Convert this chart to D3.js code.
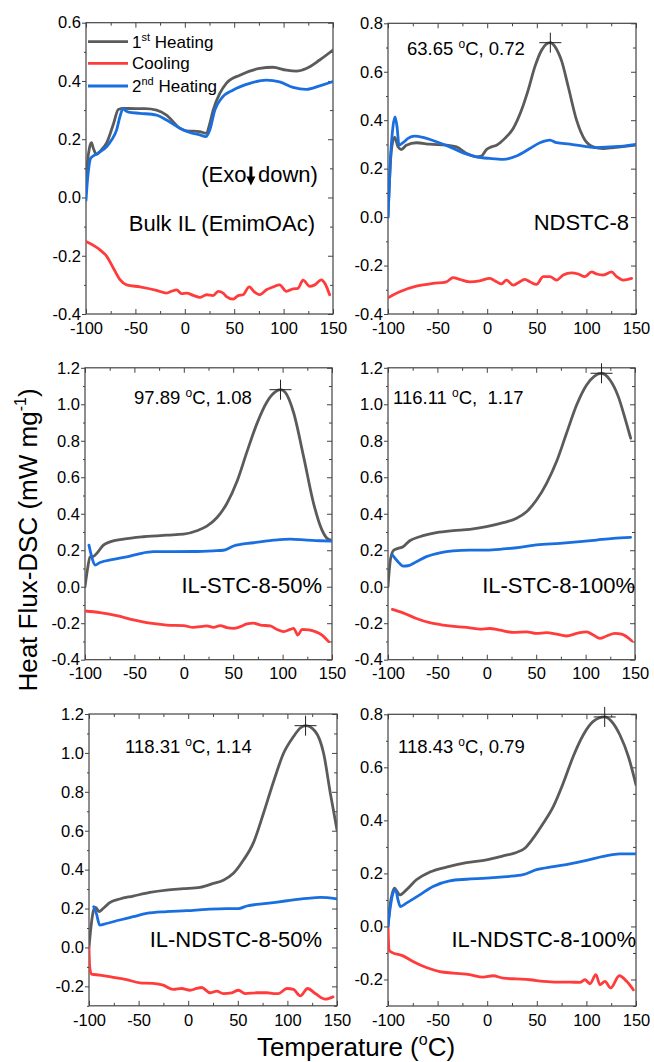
<!DOCTYPE html>
<html><head><meta charset="utf-8">
<script src="https://cdn.jsdelivr.net/npm/d3@7"></script>
<style>
body{margin:0;background:#fff}
svg{display:block}
text{font-family:"Liberation Sans",Arial,Helvetica,sans-serif;fill:#000}
</style>
</head><body>
<svg id="c" width="654" height="1062"></svg>
<script>
// ---------------- DATA ----------------
const xTicks = [-100, -50, 0, 50, 100, 150];
const xMinorTicks = [-75, -25, 25, 75, 125];
const seriesNames = ["1st Heating", "Cooling", "2nd Heating"];
const sampleNames = ["Bulk IL (EmimOAc)", "NDSTC-8", "IL-STC-8-50%", "IL-STC-8-100%", "IL-NDSTC-8-50%", "IL-NDSTC-8-100%"];

const p1YTicks = [-0.4, -0.2, 0.0, 0.2, 0.4, 0.6];
const p2YTicks = [-0.4, -0.2, 0.0, 0.2, 0.4, 0.6, 0.8];
const p3YTicks = [-0.4, -0.2, 0.0, 0.2, 0.4, 0.6, 0.8, 1.0, 1.2];
const p4YTicks = [-0.4, -0.2, 0.0, 0.2, 0.4, 0.6, 0.8, 1.0, 1.2];
const p5YTicks = [-0.2, 0.0, 0.2, 0.4, 0.6, 0.8, 1.0, 1.2];
const p6YTicks = [-0.2, 0.0, 0.2, 0.4, 0.6, 0.8];

// peaks [T, value] as labelled
const p2Peak = [63.65, 0.72];
const p3Peak = [97.89, 1.08];
const p4Peak = [116.11, 1.17];
const p5Peak = [118.31, 1.14];
const p6Peak = [118.43, 0.79];
const peakLabels = ["63.65 ", "97.89 ", "116.11 ", "118.31 ", "118.43 "];
const peakValueLabels = [", 0.72", ", 1.08", ",  1.17", ", 1.14", ", 0.79"];

// Panel 1 : Bulk IL
const p1Heat1 = [[-100,0.04],[-98.5,0.12],[-96.5,0.17],[-94.5,0.188],[-92.5,0.168],[-89.5,0.148],[-84,0.165],[-79,0.188],[-72,0.255],[-67.3,0.302],[-62,0.306],[-50,0.305],[-40,0.305],[-28.6,0.30],[-18.5,0.283],[-5,0.238],[1.8,0.229],[15,0.226],[22,0.22],[25,0.25],[28.7,0.30],[35.4,0.357],[42,0.392],[55.7,0.42],[75.9,0.443],[89,0.447],[102.8,0.437],[113,0.434],[123,0.443],[136.5,0.472],[150,0.506]];
const p1Cool = [[-100,-0.151],[-85.8,-0.18],[-79,-0.202],[-72.4,-0.242],[-65.6,-0.282],[-58.9,-0.30],[-45.4,-0.307],[-28.6,-0.319],[-18.5,-0.328],[-13.4,-0.322],[-8.4,-0.317],[-3.3,-0.33],[1.8,-0.328],[8.5,-0.336],[15.2,-0.343],[22,-0.334],[28.7,-0.337],[33.8,-0.322],[38.8,-0.328],[42.2,-0.34],[49,-0.349],[54,-0.337],[59,-0.334],[65.1,-0.307],[70.8,-0.325],[75.9,-0.334],[82.6,-0.317],[89.4,-0.307],[96,-0.30],[102.8,-0.322],[109.5,-0.314],[114.5,-0.312],[119.7,-0.284],[126.4,-0.305],[131.5,-0.30],[138.2,-0.283],[141.6,-0.294],[146.6,-0.334]];
const p1Heat2 = [[-100,-0.01],[-98.5,0.06],[-97.6,0.09],[-95.3,0.135],[-89,0.15],[-79,0.175],[-74,0.198],[-69,0.232],[-65.6,0.278],[-62.3,0.306],[-60,0.298],[-57,0.293],[-45.4,0.289],[-28.6,0.283],[-18.5,0.266],[-5,0.238],[5,0.223],[15.2,0.215],[21.3,0.209],[25.3,0.232],[30.4,0.30],[37,0.34],[49,0.369],[65.8,0.392],[82.6,0.403],[96,0.397],[109.6,0.378],[123,0.371],[136.5,0.383],[150,0.398]];

// Panel 2 : NDSTC-8
const p2Heat1 = [[-100,0],[-96.6,0.276],[-93.3,0.33],[-89.9,0.29],[-86.5,0.279],[-81.5,0.297],[-71.4,0.307],[-57.9,0.301],[-41,0.297],[-31,0.29],[-20.9,0.263],[-10.8,0.249],[-5.8,0.252],[-0.7,0.279],[4.3,0.29],[9.4,0.297],[17.8,0.325],[26.2,0.366],[34.6,0.442],[41.3,0.524],[48,0.62],[54.8,0.689],[59.5,0.714],[63.65,0.72],[68,0.706],[72,0.676],[75,0.645],[81.7,0.538],[90.1,0.40],[98.5,0.318],[106.9,0.29],[117,0.283],[127.1,0.287],[140.6,0.293],[150,0.297]];
const p2Cool = [[-100,-0.333],[-88.2,-0.308],[-71.4,-0.285],[-54.6,-0.274],[-41.1,-0.267],[-34.4,-0.25],[-27.7,-0.257],[-17.6,-0.267],[-7.5,-0.263],[2.6,-0.253],[9.4,-0.267],[14.4,-0.276],[19.4,-0.26],[26.2,-0.281],[31.2,-0.271],[38,-0.257],[43,-0.267],[49.7,-0.278],[56.5,-0.246],[63.2,-0.246],[70,-0.26],[76.6,-0.239],[85,-0.23],[91.8,-0.235],[98.5,-0.246],[105.2,-0.226],[110.3,-0.235],[117,-0.239],[125.4,-0.226],[130.5,-0.246],[137.2,-0.26],[145.6,-0.253]];
const p2Heat2 = [[-100,0],[-97.6,0.235],[-95,0.373],[-92.9,0.414],[-90.9,0.373],[-88.9,0.297],[-84.9,0.307],[-79.8,0.325],[-73.1,0.334],[-64.7,0.329],[-51.2,0.311],[-37.8,0.29],[-24.3,0.265],[-10.8,0.249],[2.6,0.242],[16.1,0.238],[29.5,0.252],[43,0.283],[53.1,0.307],[63.2,0.318],[70,0.307],[83.4,0.301],[96.8,0.293],[110.3,0.287],[123.8,0.29],[137.2,0.293],[150,0.30]];

// Panel 3 : IL-STC-8-50%
const p3Heat1 = [[-100,0],[-97.6,0.091],[-94.9,0.164],[-91.6,0.166],[-88.2,0.182],[-81.4,0.228],[-74.7,0.246],[-61.1,0.261],[-40.9,0.274],[-17.2,0.283],[-0.3,0.288],[13.2,0.307],[23.3,0.332],[33.4,0.378],[43.6,0.456],[53.7,0.575],[63.9,0.739],[74,0.894],[84.1,1.013],[92.6,1.068],[97.89,1.08],[102.7,1.065],[111.1,0.955],[121.3,0.712],[131.4,0.456],[139.9,0.31],[145,0.265],[150,0.252]];
const p3Cool = [[-100,-0.133],[-84.8,-0.142],[-67.9,-0.159],[-51,-0.182],[-34.1,-0.20],[-17.2,-0.21],[-0.3,-0.213],[9.8,-0.223],[16.6,-0.219],[23.3,-0.215],[30.1,-0.223],[36.8,-0.213],[43.6,-0.224],[50.3,-0.228],[57.1,-0.219],[63.9,-0.204],[70.6,-0.20],[77.4,-0.21],[87.5,-0.215],[94.3,-0.234],[101,-0.246],[107.8,-0.234],[111.1,-0.228],[115.5,-0.265],[119.6,-0.234],[126.4,-0.237],[133.1,-0.246],[139.9,-0.265],[146.6,-0.301]];
const p3Heat2 = [[-96,0.228],[-93.5,0.17],[-89.9,0.119],[-84.8,0.133],[-71.3,0.15],[-57.8,0.164],[-44.3,0.182],[-30.7,0.192],[-10.5,0.192],[9.8,0.193],[30,0.197],[40.2,0.20],[50.3,0.223],[70.6,0.241],[90.9,0.255],[107.8,0.261],[124.7,0.255],[138.2,0.252],[150,0.25]];

// Panel 4 : IL-STC-8-100%
const p4Heat1 = [[-100,0],[-97.6,0.146],[-94.3,0.20],[-89.9,0.21],[-84.8,0.219],[-78,0.252],[-67.9,0.274],[-51,0.296],[-34.1,0.307],[-17.2,0.314],[-0.3,0.329],[16.6,0.351],[30.1,0.375],[40.2,0.411],[50.3,0.475],[60.5,0.567],[70.6,0.686],[80.7,0.841],[90.9,0.996],[101,1.106],[109,1.155],[116.11,1.17],[124.7,1.133],[133.1,1.042],[139.9,0.923],[145.6,0.814]];
const p4Cool = [[-95.6,-0.124],[-84.8,-0.143],[-71.3,-0.174],[-57.8,-0.197],[-44.3,-0.21],[-30.7,-0.219],[-17.2,-0.225],[-7.1,-0.232],[3,-0.229],[13.2,-0.238],[26.7,-0.25],[40.2,-0.247],[50.3,-0.256],[60.5,-0.252],[70.6,-0.26],[80.7,-0.27],[90.9,-0.256],[101,-0.247],[107.8,-0.265],[114.5,-0.283],[121.3,-0.27],[129.7,-0.256],[136.5,-0.26],[146.6,-0.296]];
const p4Heat2 = [[-95.6,0.174],[-89.9,0.137],[-84.8,0.113],[-79.7,0.115],[-71.3,0.137],[-61.1,0.165],[-47.6,0.186],[-34.1,0.197],[-17.2,0.201],[-0.3,0.201],[16.6,0.207],[33.4,0.216],[50.3,0.229],[74,0.238],[94.3,0.247],[111.1,0.256],[128,0.265],[145.6,0.271]];

// Panel 5 : IL-NDSTC-8-50%
const p5Heat1 = [[-100,0],[-97.6,0.123],[-95.3,0.192],[-93.3,0.206],[-89.9,0.184],[-85.8,0.2],[-79.1,0.23],[-69,0.249],[-55.5,0.264],[-38.7,0.283],[-21.8,0.295],[-5,0.302],[11.9,0.309],[25.3,0.329],[35.4,0.346],[45.6,0.381],[55.7,0.449],[65.8,0.539],[75.9,0.69],[86,0.852],[96.1,0.998],[106.2,1.084],[113,1.128],[118.31,1.14],[128.1,1.11],[136.5,0.998],[143.3,0.792],[150,0.604]];
const p5Cool = [[-100,0],[-99.3,-0.1],[-97.6,-0.137],[-89.2,-0.142],[-75.7,-0.154],[-62.3,-0.165],[-48.8,-0.182],[-35.3,-0.185],[-25.2,-0.194],[-15.1,-0.216],[-6.7,-0.211],[1.8,-0.22],[8.5,-0.211],[13.5,-0.206],[22,-0.233],[28.7,-0.225],[35.4,-0.237],[43.9,-0.233],[50.6,-0.22],[57.3,-0.237],[69.1,-0.233],[79.2,-0.233],[86,-0.237],[91,-0.237],[99.5,-0.211],[106.2,-0.216],[112.9,-0.249],[120.4,-0.211],[128.1,-0.237],[138.2,-0.266],[146,-0.254]];
const p5Heat2 = [[-95.3,0.209],[-92.6,0.175],[-89.2,0.115],[-82.5,0.123],[-69,0.141],[-55.5,0.158],[-42,0.175],[-21.8,0.184],[-1.6,0.189],[18.6,0.196],[38.8,0.2],[50.6,0.2],[59,0.213],[79.2,0.226],[99.5,0.24],[119.7,0.252],[133.2,0.257],[150,0.25]];

// Panel 6 : IL-NDSTC-8-100%
const p6Heat1 = [[-100,0],[-98.3,0.069],[-95.6,0.126],[-93.3,0.144],[-90.9,0.132],[-88.2,0.119],[-81.5,0.138],[-71.4,0.176],[-57.9,0.205],[-41.1,0.224],[-20.9,0.241],[-0.7,0.251],[16.1,0.266],[29.5,0.279],[37.9,0.295],[46.4,0.333],[56.5,0.389],[66.6,0.452],[76.6,0.54],[86.7,0.641],[96.8,0.722],[106.9,0.773],[118.43,0.79],[125.4,0.773],[133.8,0.722],[142.3,0.641],[150,0.534]];
const p6Cool = [[-100,0],[-99,-0.088],[-96.6,-0.097],[-84.9,-0.111],[-74.8,-0.132],[-61.3,-0.155],[-47.8,-0.17],[-34.4,-0.176],[-17.6,-0.182],[-4.1,-0.191],[6,-0.186],[16.1,-0.195],[29.5,-0.198],[43,-0.201],[56.5,-0.207],[69.9,-0.21],[83.4,-0.21],[93.5,-0.211],[98.5,-0.201],[103.6,-0.216],[109.6,-0.182],[113.7,-0.22],[118.7,-0.207],[124.4,-0.232],[133.2,-0.186],[140.6,-0.207],[147.3,-0.239]];
const p6Heat2 = [[-100,0],[-97.6,0.075],[-94.3,0.132],[-92.3,0.138],[-89.9,0.1],[-87.5,0.075],[-81.5,0.088],[-68,0.119],[-54.6,0.151],[-37.8,0.172],[-20.9,0.178],[-0.7,0.182],[19.4,0.188],[36.3,0.195],[49.7,0.214],[66.6,0.226],[83.4,0.236],[100.2,0.249],[117,0.264],[133.8,0.274],[150,0.274]];

// ---------------- STYLE / LAYOUT ----------------
const colors = {heat1: "#5b5b5b", cool: "#ff3b3b", heat2: "#1a6fe0"};
const axisColor = "#444";

const panels = [
  {id:1, x0:86, x1:333, y0:22.7, y1:314, yDomain:[-0.4,0.6], yTicks:p1YTicks, heat1:p1Heat1, cool:p1Cool, heat2:p1Heat2, peak:null,
   sample:{x:315, y:231}},
  {id:2, x0:388, x1:636, y0:23.3, y1:314, yDomain:[-0.4,0.8], yTicks:p2YTicks, heat1:p2Heat1, cool:p2Cool, heat2:p2Heat2, peak:p2Peak, peakIdx:0,
   label:{x:407, y:55}, sample:{x:629, y:230}},
  {id:3, x0:85, x1:332, y0:367.8, y1:659.7, yDomain:[-0.4,1.2], yTicks:p3YTicks, heat1:p3Heat1, cool:p3Cool, heat2:p3Heat2, peak:p3Peak, peakIdx:1,
   label:{x:134, y:404}, sample:{x:322, y:593}},
  {id:4, x0:388, x1:635, y0:367.8, y1:659.7, yDomain:[-0.4,1.2], yTicks:p4YTicks, heat1:p4Heat1, cool:p4Cool, heat2:p4Heat2, peak:p4Peak, peakIdx:2,
   label:{x:393, y:404}, sample:{x:635, y:593}},
  {id:5, x0:89, x1:337, y0:714, y1:1005.8, yDomain:[-0.3,1.2], yTicks:p5YTicks, heat1:p5Heat1, cool:p5Cool, heat2:p5Heat2, peak:p5Peak, peakIdx:3,
   label:{x:125, y:753}, sample:{x:322, y:947}},
  {id:6, x0:388, x1:636, y0:714.3, y1:1006, yDomain:[-0.3,0.8], yTicks:p6YTicks, heat1:p6Heat1, cool:p6Cool, heat2:p6Heat2, peak:p6Peak, peakIdx:4,
   label:{x:398, y:753}, sample:{x:636, y:947}}
];

const svg = d3.select("#c");
const defs = svg.append("defs");

function styleAxis(g){
  g.selectAll(".domain").remove();
  g.selectAll(".tick line").attr("stroke", axisColor).attr("stroke-width", 1);
  g.attr("font-family", null).attr("font-size", null);
  g.selectAll(".tick text").attr("font-size", 16.5).attr("fill", "#000");
}

panels.forEach((p, i) => {
  const x = d3.scaleLinear().domain([-100,150]).range([p.x0, p.x1]);
  const y = d3.scaleLinear().domain(p.yDomain).range([p.y1, p.y0]);
  const lo = Math.round(p.yDomain[0]*10), hi = Math.round(p.yDomain[1]*10);
  const yMinor = d3.range(lo, hi+1).filter(k => k % 2 !== 0).map(k => k/10);
  const g = svg.append("g");

  defs.append("clipPath").attr("id", "clip"+p.id).append("rect")
    .attr("x", p.x0).attr("y", p.y0).attr("width", p.x1-p.x0).attr("height", p.y1-p.y0);

  // bottom
  g.append("g").attr("transform", `translate(0,${p.y1})`)
    .call(d3.axisBottom(x).tickValues(xTicks).tickSize(-5).tickSizeOuter(0).tickPadding(8).tickFormat(d => String(d)))
    .call(styleAxis);
  g.append("g").attr("transform", `translate(0,${p.y1})`)
    .call(d3.axisBottom(x).tickValues(xMinorTicks).tickSize(-3).tickSizeOuter(0).tickFormat(""))
    .call(styleAxis);
  // top
  g.append("g").attr("transform", `translate(0,${p.y0})`)
    .call(d3.axisTop(x).tickValues(xTicks).tickSize(-5).tickSizeOuter(0).tickFormat(""))
    .call(styleAxis);
  g.append("g").attr("transform", `translate(0,${p.y0})`)
    .call(d3.axisTop(x).tickValues(xMinorTicks).tickSize(-3).tickSizeOuter(0).tickFormat(""))
    .call(styleAxis);
  // left
  g.append("g").attr("transform", `translate(${p.x0},0)`)
    .call(d3.axisLeft(y).tickValues(p.yTicks).tickSize(4).tickSizeOuter(0).tickPadding(1).tickFormat(d => d.toFixed(1)))
    .call(styleAxis);
  g.append("g").attr("transform", `translate(${p.x0},0)`)
    .call(d3.axisLeft(y).tickValues(yMinor).tickSize(2).tickSizeOuter(0).tickFormat(""))
    .call(styleAxis);
  // right
  g.append("g").attr("transform", `translate(${p.x1},0)`)
    .call(d3.axisRight(y).tickValues(p.yTicks).tickSize(-5).tickSizeOuter(0).tickFormat(""))
    .call(styleAxis);
  g.append("g").attr("transform", `translate(${p.x1},0)`)
    .call(d3.axisRight(y).tickValues(yMinor).tickSize(-3).tickSizeOuter(0).tickFormat(""))
    .call(styleAxis);

  // frame
  g.append("rect").attr("x", p.x0).attr("y", p.y0).attr("width", p.x1-p.x0).attr("height", p.y1-p.y0)
    .attr("fill", "none").attr("stroke", axisColor).attr("stroke-width", 1.2);

  // lines
  const line = d3.line().x(d => x(d[0])).y(d => y(d[1])).curve(d3.curveMonotoneX);
  const lg = g.append("g").attr("clip-path", `url(#clip${p.id})`);
  [["heat1", p.heat1], ["cool", p.cool], ["heat2", p.heat2]].forEach(([k, data]) => {
    lg.append("path").datum(data).attr("d", line)
      .attr("fill", "none").attr("stroke", colors[k]).attr("stroke-width", 2.8)
      .attr("stroke-linejoin", "round").attr("stroke-linecap", "round");
  });

  // peak marker + label
  if (p.peak) {
    const px = x(p.peak[0]), py = y(p.peak[1]);
    g.append("line").attr("x1", px-11).attr("x2", px+11).attr("y1", py).attr("y2", py)
      .attr("stroke", "#222").attr("stroke-width", 1);
    g.append("line").attr("x1", px).attr("x2", px).attr("y1", py-10).attr("y2", py+10)
      .attr("stroke", "#222").attr("stroke-width", 1);
    const t = g.append("text").attr("x", p.label.x).attr("y", p.label.y).attr("font-size", 18.5)
      .style("white-space", "pre");
    t.append("tspan").text(peakLabels[p.peakIdx]);
    t.append("tspan").attr("font-size", 12).attr("dy", -7).text("o");
    t.append("tspan").attr("dy", 7).text("C" + peakValueLabels[p.peakIdx]);
  }

  // sample label
  g.append("text").attr("x", p.sample.x).attr("y", p.sample.y).attr("text-anchor", "end")
    .attr("font-size", 22).text(sampleNames[i]);
});

// legend (panel 1)
const lgY = [41.7, 63.3, 86];
const legendKeys = ["heat1", "cool", "heat2"];
legendKeys.forEach((k, j) => {
  svg.append("line").attr("x1", 88).attr("x2", 128).attr("y1", lgY[j]).attr("y2", lgY[j])
    .attr("stroke", colors[k]).attr("stroke-width", 2.8);
  const t = svg.append("text").attr("x", 132).attr("y", lgY[j] + 6).attr("font-size", 17);
  const name = seriesNames[j];
  if (j === 1) {
    t.text(name);
  } else {
    t.append("tspan").text(name.slice(0,1));
    t.append("tspan").attr("font-size", 11).attr("dy", -7).text(name.slice(1,3));
    t.append("tspan").attr("dy", 7).text(name.slice(3));
  }
});

// (Exo ↓ down)
svg.append("text").attr("x", 246.5).attr("y", 181.5).attr("text-anchor", "end").attr("font-size", 22).text("(Exo");
svg.append("text").attr("x", 258).attr("y", 181.5).attr("text-anchor", "start").attr("font-size", 22).text("down)");
svg.append("path")
  .attr("d", "M249.4,166.5 L252.4,166.5 L252.4,176.5 L255.4,176.5 L250.9,185.5 L246.4,176.5 L249.4,176.5 Z")
  .attr("fill", "#000");

// axis titles
const yTitle = svg.append("text").attr("transform", "translate(37,540) rotate(-90)")
  .attr("text-anchor", "middle").attr("font-size", 26);
yTitle.append("tspan").text("Heat Flux-DSC (mW mg");
yTitle.append("tspan").attr("font-size", 16).attr("dy", -11).text("-1");
yTitle.append("tspan").attr("dy", 11).text(")");

const xTitle = svg.append("text").attr("x", 356).attr("y", 1056).attr("text-anchor", "middle").attr("font-size", 26);
xTitle.append("tspan").text("Temperature (");
xTitle.append("tspan").attr("font-size", 16).attr("dy", -11).text("o");
xTitle.append("tspan").attr("dy", 11).text("C)");
</script>
</body></html>
